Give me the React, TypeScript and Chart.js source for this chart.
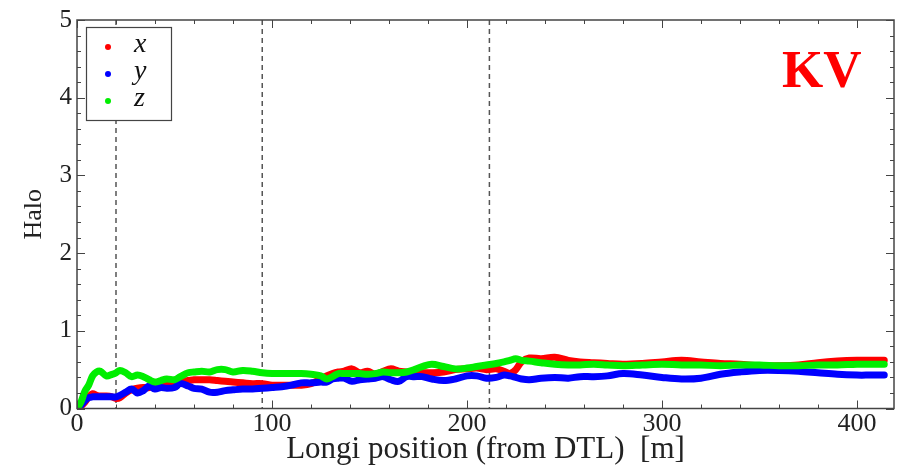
import React, { useEffect, useRef } from "react";
import { Chart, registerables } from "chart.js";

Chart.register(...registerables);

// Longitudinal position (m) shared by the three series
const positions = [
  0, 2, 4, 6, 8, 10, 12, 15, 18, 20, 22, 25, 28, 31, 34, 37, 40, 43, 46, 50, 53, 57, 60, 64, 68, 72, 76, 80, 85, 90,
  95, 100, 105, 110, 115, 120, 125, 128, 131, 134, 137, 141, 145, 149, 153, 157, 161, 165, 169, 173, 177, 182, 188,
  194, 200, 205, 210, 215, 219, 222, 225, 228, 232, 238, 245, 252, 258, 265, 272, 280, 290, 300, 310, 320, 330, 340,
  350, 360, 370, 380, 390, 400, 407, 414,
];

const haloX = [
  0.0, 0.03, 0.08, 0.15, 0.19, 0.17, 0.16, 0.16, 0.15, 0.13, 0.14, 0.2, 0.24, 0.26, 0.27, 0.27, 0.3, 0.31, 0.32, 0.34,
  0.35, 0.36, 0.37, 0.37, 0.37, 0.36, 0.35, 0.34, 0.33, 0.32, 0.32, 0.3, 0.3, 0.3, 0.3, 0.32, 0.38, 0.42, 0.45, 0.47,
  0.48, 0.51, 0.46, 0.48, 0.44, 0.48, 0.51, 0.48, 0.47, 0.46, 0.46, 0.46, 0.47, 0.5, 0.51, 0.52, 0.5, 0.51, 0.48, 0.45,
  0.5, 0.6, 0.65, 0.64, 0.66, 0.62, 0.6, 0.59, 0.58, 0.57, 0.58, 0.6, 0.62, 0.6, 0.58, 0.57, 0.55, 0.55, 0.56, 0.59,
  0.61, 0.62, 0.62, 0.62,
];

const haloY = [
  0.0, 0.04, 0.1, 0.14, 0.15, 0.15, 0.15, 0.15, 0.15, 0.15, 0.17, 0.21, 0.25, 0.2, 0.23, 0.29, 0.25, 0.27, 0.26, 0.27,
  0.32, 0.29, 0.26, 0.25, 0.21, 0.21, 0.23, 0.24, 0.25, 0.25, 0.26, 0.27, 0.28, 0.3, 0.33, 0.33, 0.34, 0.34, 0.38, 0.39,
  0.39, 0.35, 0.37, 0.38, 0.39, 0.41, 0.37, 0.35, 0.41, 0.41, 0.41, 0.38, 0.36, 0.38, 0.42, 0.42, 0.39, 0.4, 0.43, 0.42,
  0.4, 0.38, 0.37, 0.39, 0.4, 0.39, 0.41, 0.41, 0.42, 0.45, 0.43, 0.4, 0.38, 0.39, 0.44, 0.47, 0.49, 0.49, 0.48, 0.46,
  0.44, 0.43, 0.43, 0.43,
];

const haloZ = [
  0.0, 0.08, 0.22, 0.3, 0.42, 0.47, 0.48, 0.42, 0.44, 0.46, 0.49, 0.46, 0.41, 0.43, 0.41, 0.37, 0.34, 0.36, 0.38, 0.37,
  0.41, 0.46, 0.47, 0.48, 0.47, 0.5, 0.5, 0.47, 0.49, 0.48, 0.46, 0.45, 0.45, 0.45, 0.45, 0.44, 0.42, 0.38, 0.41, 0.45,
  0.45, 0.45, 0.45, 0.44, 0.45, 0.47, 0.46, 0.46, 0.47, 0.5, 0.54, 0.57, 0.54, 0.51, 0.52, 0.54, 0.56, 0.58, 0.6, 0.62,
  0.64, 0.62, 0.61, 0.59, 0.57, 0.56, 0.56, 0.57, 0.56, 0.55, 0.56, 0.57, 0.56, 0.56, 0.55, 0.56, 0.56, 0.55, 0.55,
  0.56, 0.56, 0.57, 0.57, 0.57,
];

const seriesLabels = ["x", "y", "z"];
const seriesColors = ["#ff0000", "#0000ff", "#00ee00"];
const dividerPositions = [20, 95, 211.5];
const xTickValues = [0, 100, 200, 300, 400];
const yTickValues = [0, 1, 2, 3, 4, 5];
const cornerLabel = "KV";
const xTitle = "Longi position (from DTL)  [m]";
const yTitle = "Halo";

const SERIF = "'Liberation Serif', 'Times New Roman', 'DejaVu Serif', serif";

const framePlugin = {
  id: "mathematicaFrame",
  beforeDatasetsDraw(chart: any) {
    const { ctx, chartArea, scales } = chart;
    ctx.save();
    ctx.strokeStyle = "#555";
    ctx.lineWidth = 1.5;
    ctx.setLineDash([5, 4]);
    for (const v of dividerPositions) {
      const px = scales.x.getPixelForValue(v);
      ctx.beginPath();
      ctx.moveTo(px, chartArea.top);
      ctx.lineTo(px, chartArea.bottom);
      ctx.stroke();
    }
    ctx.restore();
  },
  afterDraw(chart: any) {
    const { ctx, chartArea, scales } = chart;
    const { left, right, top, bottom } = chartArea;
    ctx.save();
    ctx.strokeStyle = "#444";
    ctx.lineWidth = 1.5;
    ctx.strokeRect(left, top, right - left, bottom - top);
    ctx.lineWidth = 1;
    // x ticks (inward, bottom & top)
    for (let v = 0; v <= scales.x.max; v += 20) {
      const px = Math.round(scales.x.getPixelForValue(v)) + 0.5;
      const len = v % 100 === 0 ? 8 : 4;
      ctx.beginPath();
      ctx.moveTo(px, bottom);
      ctx.lineTo(px, bottom - len);
      ctx.moveTo(px, top);
      ctx.lineTo(px, top + len);
      ctx.stroke();
    }
    // y ticks (inward, left & right)
    for (let i = 0; i <= 25; i++) {
      const v = i * 0.2;
      const py = Math.round(scales.y.getPixelForValue(v)) + 0.5;
      const len = i % 5 === 0 ? 8 : 4;
      ctx.beginPath();
      ctx.moveTo(left, py);
      ctx.lineTo(left + len, py);
      ctx.moveTo(right, py);
      ctx.lineTo(right - len, py);
      ctx.stroke();
    }
    // legend box
    const bx = left + 9;
    const by = top + 7;
    const bw = 85;
    const bh = 93;
    ctx.fillStyle = "#ffffff";
    ctx.fillRect(bx, by, bw, bh);
    ctx.strokeStyle = "#444";
    ctx.lineWidth = 1.2;
    ctx.strokeRect(bx + 0.5, by + 0.5, bw, bh);
    chart.data.datasets.forEach((ds: any, i: number) => {
      const cy = by + 20 + i * 27;
      ctx.fillStyle = ds.borderColor;
      ctx.beginPath();
      ctx.arc(bx + 22, cy, 3, 0, Math.PI * 2);
      ctx.fill();
      ctx.fillStyle = "#111";
      ctx.font = `italic 28px ${SERIF}`;
      ctx.textBaseline = "middle";
      ctx.textAlign = "left";
      ctx.fillText(ds.label, bx + 48, cy - 2);
    });
    // corner label
    ctx.fillStyle = "#ff0000";
    ctx.font = `bold 53px ${SERIF}`;
    ctx.textAlign = "left";
    ctx.textBaseline = "alphabetic";
    ctx.fillText(cornerLabel, 782, 87);
    ctx.restore();
  },
};

export default function App() {
  const canvasRef = useRef<HTMLCanvasElement | null>(null);

  useEffect(() => {
    const canvas = canvasRef.current;
    if (!canvas) return;
    const series = [haloX, haloY, haloZ];
    const drawOrder = [2, 1, 0];
    const chart = new Chart(canvas, {
      type: "line",
      data: {
        datasets: series.map((vals, i) => ({
          label: seriesLabels[i],
          data: positions.map((p, k) => ({ x: p, y: vals[k] })),
          borderColor: seriesColors[i],
          backgroundColor: seriesColors[i],
          borderWidth: 7,
          pointRadius: 0,
          tension: 0.35,
          order: drawOrder[i],
          borderCapStyle: "round",
          borderJoinStyle: "round",
        })),
      },
      options: {
        animation: false,
        responsive: false,
        maintainAspectRatio: false,
        devicePixelRatio: 1,
        layout: { padding: { top: 16, right: 7, left: 0, bottom: 0 } },
        plugins: {
          legend: { display: false },
          tooltip: { enabled: false },
        },
        scales: {
          x: {
            type: "linear",
            min: 0,
            max: 419,
            grid: { display: false, drawTicks: false },
            border: { display: false },
            afterBuildTicks: (scale: any) => {
              scale.ticks = xTickValues.map((v) => ({ value: v }));
            },
            afterFit: (scale: any) => {
              scale.height = 57.5;
            },
            ticks: {
              includeBounds: false,
              maxRotation: 0,
              padding: 0,
              color: "#222",
              font: { family: SERIF, size: 26 },
            },
            title: {
              display: true,
              text: xTitle,
              color: "#222",
              font: { family: SERIF, size: 31 },
              padding: { top: 0, bottom: -2 },
            },
          },
          y: {
            type: "linear",
            min: 0,
            max: 5,
            grid: { display: false, drawTicks: false },
            border: { display: false },
            afterBuildTicks: (scale: any) => {
              scale.ticks = yTickValues.map((v) => ({ value: v }));
            },
            afterFit: (scale: any) => {
              scale.width = 77;
            },
            ticks: {
              padding: 5,
              color: "#222",
              font: { family: SERIF, size: 25 },
            },
            title: {
              display: true,
              text: yTitle,
              color: "#222",
              font: { family: SERIF, size: 26 },
              padding: { top: 19, bottom: 0 },
            },
          },
        },
      },
      plugins: [framePlugin],
    } as any);
    return () => chart.destroy();
  }, []);

  return (
    <div style={{ position: "fixed", left: 0, top: 0, width: 901, height: 466, background: "#fff" }}>
      <canvas ref={canvasRef} width={901} height={466} style={{ width: 901, height: 466, display: "block" }} />
    </div>
  );
}
